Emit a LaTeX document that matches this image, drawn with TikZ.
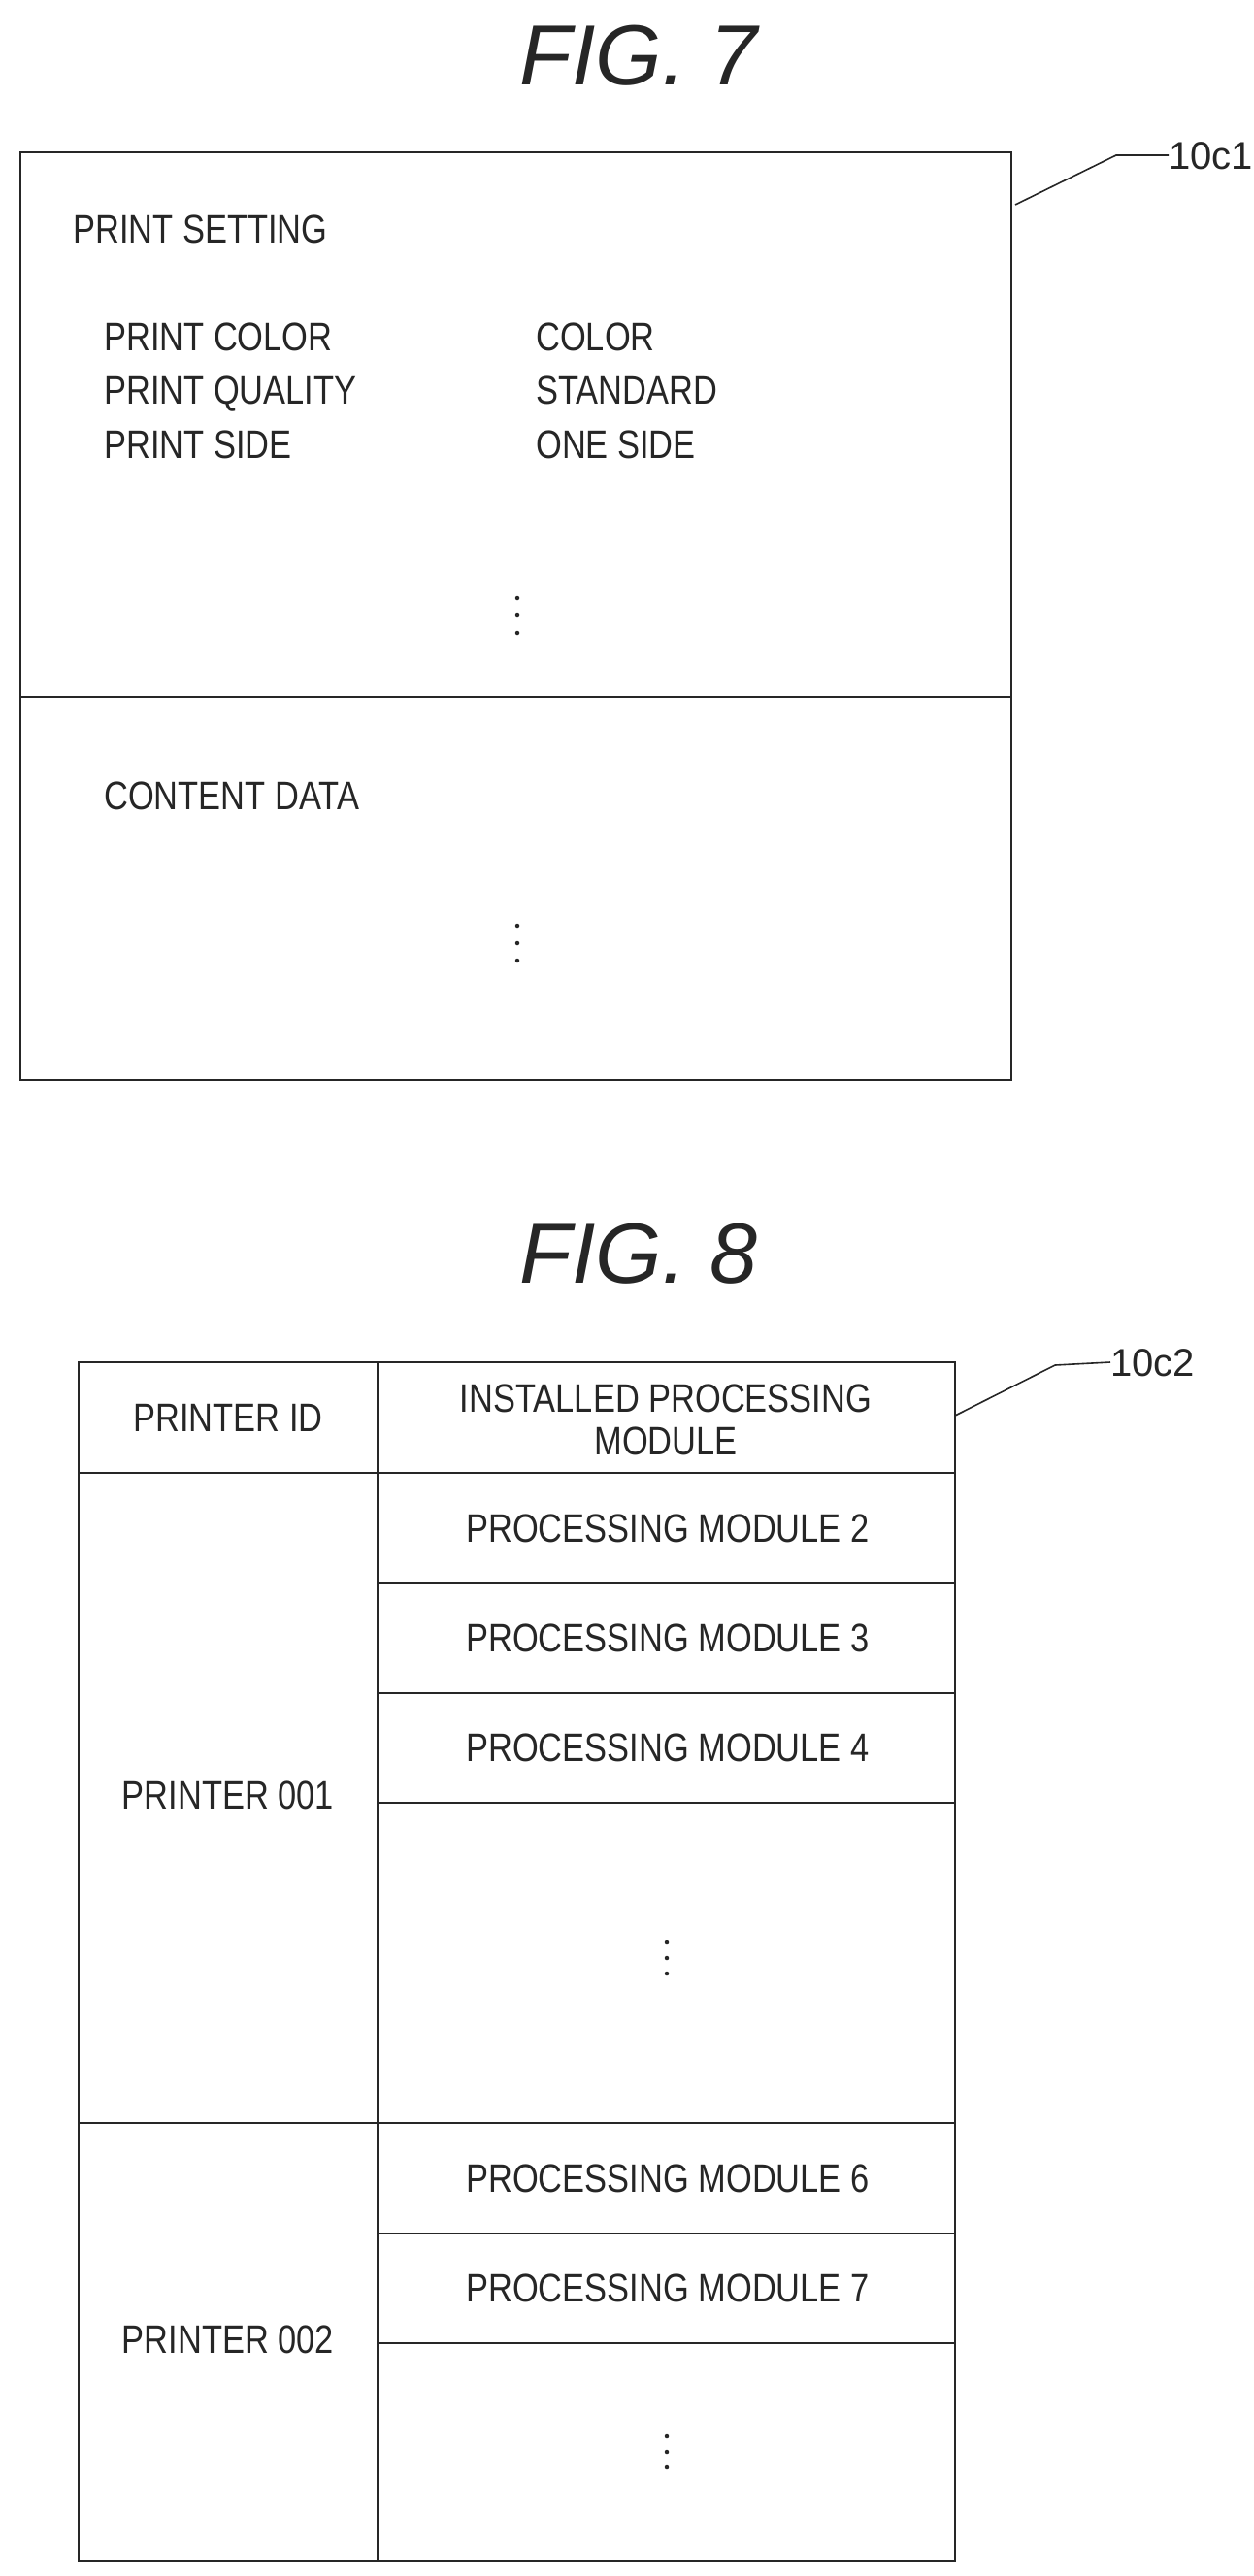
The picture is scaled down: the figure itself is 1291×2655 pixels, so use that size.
\documentclass[tikz,border=0pt]{standalone}
\usepackage{fontspec}
\setmainfont[FakeStretch=0.84]{Liberation Sans}
\newfontfamily\titlefont{Liberation Sans}
\begin{document}
\begin{tikzpicture}[x=1pt,y=-1pt,
  ln/.style={line width=2.2pt,black!85},
  txt/.style={font=\fontsize{41}{46}\selectfont,inner sep=0pt,text height=29.5pt,text depth=0pt,black!85},
  ttl/.style={font=\titlefont\itshape\fontsize{88}{95}\selectfont,inner sep=0pt,text height=63pt,text depth=0pt,black!85},
  lab/.style={font=\titlefont\fontsize{40}{46}\selectfont,inner sep=0pt,text height=29pt,text depth=0pt,anchor=west,black!85},
  dot/.style={circle,fill=black!85,inner sep=0pt,minimum size=4.5pt}]
\useasboundingbox (0,0) rectangle (1291,2655);
% FIG 7
\node[ttl] (t7) at (658,56) {FIG. 7};
\draw[ln] (21,157) rectangle (1042,1113);
\draw[ln] (21,718) -- (1042,718);
\node[txt,anchor=west] (ps) at (75,236) {PRINT SETTING};
\node[txt,anchor=west] (pc) at (107,347) {PRINT COLOR};
\node[txt,anchor=west] (pq) at (107,402) {PRINT QUALITY};
\node[txt,anchor=west] (psd) at (107,458) {PRINT SIDE};
\node[txt,anchor=west] (vc) at (552,347) {COLOR};
\node[txt,anchor=west] (vq) at (552,402) {STANDARD};
\node[txt,anchor=west] (vs) at (552,458) {ONE SIDE};
\foreach \i/\y in {a/616,b/634,c/652} \node[dot] (d1\i) at (533,\y) {};
\node[txt,anchor=west] (cd) at (107,820) {CONTENT DATA};
\foreach \i/\y in {a/954,b/972,c/990} \node[dot] (d2\i) at (533,\y) {};
\node[lab] (l1) at (1204,160) {10c1};
\coordinate (k1) at (1150,160);
\draw[line width=1.6pt,black!85] (1046,211) -- (k1) -- (l1.west);
% FIG 8
\node[ttl] (t8) at (658,1291) {FIG. 8};
\draw[ln] (81,1404) rectangle (984,2640);
\draw[ln] (389,1404) -- (389,2640);
\draw[ln] (81,1518) -- (984,1518);
\draw[ln] (81,2188) -- (984,2188);
\foreach \y in {1632,1745,1858,2302,2415} \draw[ln] (389,\y) -- (984,\y);
\node[txt] (pid) at (235,1461) {PRINTER ID};
\node[font=\fontsize{41}{44}\selectfont,inner sep=0pt,align=center,black!85] (ipm) at (686,1463) {INSTALLED PROCESSING\\MODULE};
\node[txt] (m2) at (688,1575) {PROCESSING MODULE 2};
\node[txt] (m3) at (688,1688) {PROCESSING MODULE 3};
\node[txt] (m4) at (688,1801) {PROCESSING MODULE 4};
\node[txt] (p1) at (235,1850) {PRINTER 001};
\foreach \i/\y in {a/2002,b/2018,c/2034} \node[dot] (d3\i) at (687,\y) {};
\node[txt] (m6) at (688,2245) {PROCESSING MODULE 6};
\node[txt] (m7) at (688,2358) {PROCESSING MODULE 7};
\node[txt] (p2) at (235,2411) {PRINTER 002};
\foreach \i/\y in {a/2511,b/2527,c/2543} \node[dot] (d4\i) at (687,\y) {};
\node[lab] (l2) at (1144,1404) {10c2};
\coordinate (k2) at (1087,1407);
\draw[line width=1.6pt,black!85] (984,1459) -- (k2) -- (l2.west);
\end{tikzpicture}
\end{document}
